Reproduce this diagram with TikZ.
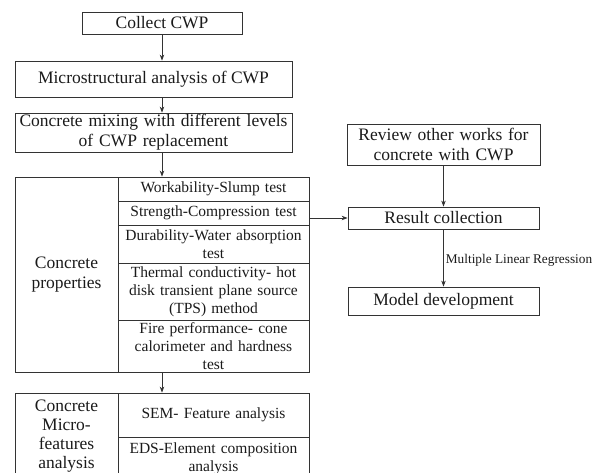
\documentclass[tikz,border=0pt]{standalone}
\usepackage{fontspec}
\setmainfont{Liberation Serif}
\usetikzlibrary{arrows.meta}
\definecolor{linec}{HTML}{333333}
\definecolor{txtc}{HTML}{1A1A1A}
\begin{document}
\begin{tikzpicture}[x=1pt,y=-1pt,
  box/.style={draw=linec, line width=0.8pt, rectangle, inner sep=0pt, align=center, text=txtc, font=\fontsize{17.5}{20}\selectfont},
  cell/.style={box, font=\fontsize{15.5}{18}\selectfont, text width=188pt},
  arr/.style={draw=linec, line width=0.8pt, -{Stealth[length=6pt,width=4.5pt]}},
  lbl/.style={text=txtc, inner sep=0pt, font=\fontsize{13.3}{15}\selectfont}]
\useasboundingbox (0,0) rectangle (594,472);
% left column main boxes
\node[box, minimum width=160pt, minimum height=22pt] (collect) at (162,23) {Collect CWP};
\node[box, minimum width=277pt, minimum height=36pt] (micro) at (153.5,79) {Microstructural analysis of CWP};
\node[box, minimum width=277pt, minimum height=39pt, text width=270pt] (mixing) at (153.5,132.5) {Concrete mixing with different levels\\of CWP replacement};
% properties table
\node[box, minimum width=103pt, minimum height=195pt, text width=100pt] (props) at (66.5,274.5) {Concrete\\properties};
\node[cell, minimum width=191pt, minimum height=24pt] (work) at (213.5,189) {Workability-Slump test};
\node[cell, minimum width=191pt, minimum height=24pt] (strength) at (213.5,213) {Strength-Compression test};
\node[cell, minimum width=191pt, minimum height=38pt] (dur) at (213.5,244) {Durability-Water absorption\\test};
\node[cell, minimum width=191pt, minimum height=57pt] (therm) at (213.5,291.5) {Thermal conductivity- hot\\disk transient plane source\\(TPS) method};
\node[cell, minimum width=191pt, minimum height=52pt] (fire) at (213.5,346) {Fire performance- cone\\calorimeter and hardness\\test};
% micro-features table
\node[box, minimum width=103pt, minimum height=87pt, text width=100pt, font=\fontsize{17.5}{19}\selectfont] (mf) at (66.5,436.5) {Concrete\\Micro-\\features\\analysis};
\node[cell, minimum width=191pt, minimum height=44pt] (sem) at (213.5,415) {SEM- Feature analysis};
\node[cell, minimum width=191pt, minimum height=43pt] (eds) at (213.5,458.5) {EDS-Element composition\\analysis};
% right column
\node[box, minimum width=193pt, minimum height=41pt, text width=190pt] (review) at (443.5,144.5) {Review other works for\\concrete with CWP};
\node[box, minimum width=191pt, minimum height=22pt] (result) at (443.5,218) {Result collection};
\node[box, minimum width=191pt, minimum height=28pt] (model) at (443.5,301) {Model development};
% connectors
\draw[arr] (collect.south) -- (micro.north -| collect.south);
\draw[arr] (micro.south -| collect.south) -- (mixing.north -| collect.south);
\draw[arr] (mixing.south -| collect.south) -- (work.north -| collect.south);
\draw[arr] (fire.south -| collect.south) -- (sem.north -| collect.south);
\draw[arr] (result.west -| strength.east) -- (result.west);
\draw[arr] (review.south) -- (result.north);
\draw[arr] (result.south) -- node[lbl, anchor=west, xshift=2pt, yshift=-2pt] (mlr) {Multiple Linear Regression} (model.north);
\end{tikzpicture}
\end{document}
